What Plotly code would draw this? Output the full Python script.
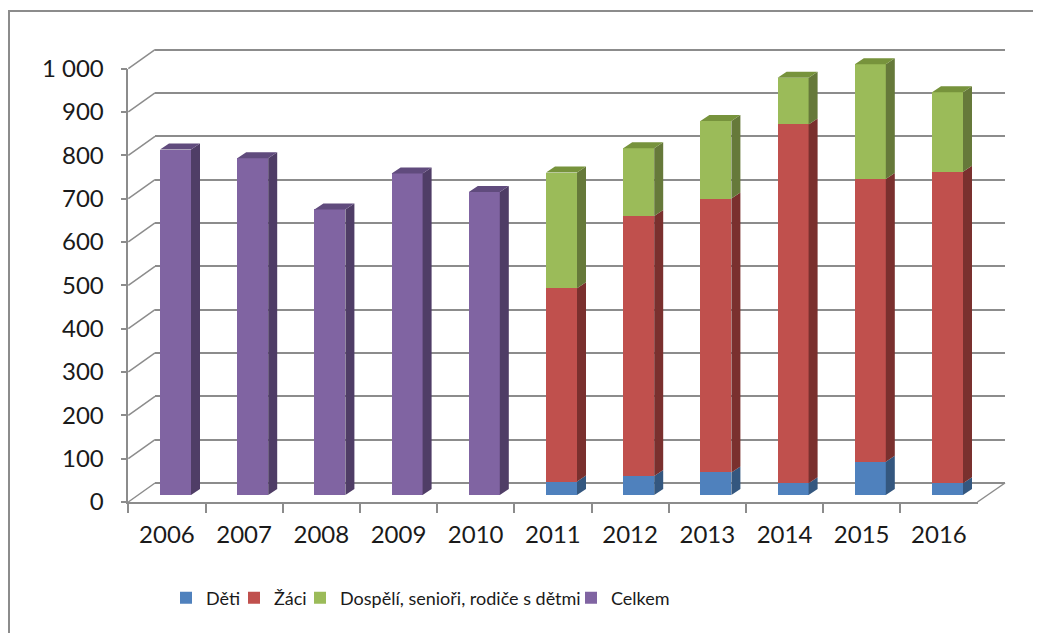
import plotly.graph_objects as go

# Daten
years = ["2006", "2007", "2008", "2009", "2010", "2011", "2012", "2013", "2014", "2015", "2016"]
deti = [None, None, None, None, None, 31, 44, 52, 27, 77, 27]
zaci = [None, None, None, None, None, 446, 600, 632, 828, 652, 719]
dospeli = [None, None, None, None, None, 267, 156, 179, 108, 265, 183]
celkem = [797, 777, 659, 742, 699, None, None, None, None, None, None]

y_ticks = [0, 100, 200, 300, 400, 500, 600, 700, 800, 900, 1000]
y_ticktext = ["0", "100", "200", "300", "400", "500", "600", "700", "800", "900", "1 000"]

series = [
    ("Děti", deti, "#4F81BD", "#34577F", "#3F6797"),
    ("Žáci", zaci, "#C0504D", "#7A302E", "#9A403D"),
    ("Dospělí, senioři, rodiče s dětmi", dospeli, "#9BBB59", "#66793A", "#77933C"),
    ("Celkem", celkem, "#8064A2", "#4F3D66", "#604B7D"),
]

# Geometrie in Pixeln (Excel-3D-Look nachgebaut)
W, H = 1041, 633
OFF = 8               # Body-Rand der HTML-Seite
K = 0.4334            # Pixel pro Einheit auf der y-Achse
STEP = 77.2           # Pixel pro Kategorie
BAR_W = 31 / STEP     # Balkenbreite in Kategorie-Einheiten
DX = 9 / STEP         # Tiefe nach rechts
DY = 6 / K            # Tiefe nach oben

FRONT_P0, FRONT_L, FRONT_R = 502, 128.3, 977.5
BAR_P0, BAR_C0 = 495, 175.5
BACK_P0, BACK_L, BACK_R = 483, 155, 1005

LEGEND_X = [166, 234, 300, 571]   # linke Kante je Legendeneintrag
LEGEND_Y = 598

GRID = "#8C8C8C"
FONT = "Lato"
TXT = "#1A1A1A"


def fx(px):
    return (px - OFF) / W


def fy(py):
    return 1 - (py - OFF) / H


def ydomain(p0, lo, hi):
    return [fy(p0 - lo * K), fy(p0 - hi * K)]


fig = go.Figure()

# Rückwand: nur Gitternetzlinien (erste Subplot-Ebene, liegt unter den Balken)
fig.add_trace(go.Scatter(x=[0.5], y=[500], mode="markers", marker=dict(opacity=0),
                         showlegend=False, hoverinfo="skip", xaxis="x", yaxis="y"))

# Balken (Vorderseiten), jede Reihe mit eigener Legende
legend_ids = ["legend", "legend2", "legend3", "legend4"]
for (name, vals, col, side, top), lid in zip(series, legend_ids):
    fig.add_trace(go.Bar(x=list(range(len(years))), y=vals, name=name, width=BAR_W,
                         marker=dict(color=col, line=dict(width=0)),
                         xaxis="x2", yaxis="y2", legend=lid))

# Seiten- und Deckflächen
bases = [0] * len(years)
top_info = [None] * len(years)
for name, vals, col, side, top in series:
    xs, ys = [], []
    for i, v in enumerate(vals):
        if v is None:
            continue
        b = bases[i]
        t = b + v
        xr = i + BAR_W / 2
        xs += [xr, xr + DX, xr + DX, xr, xr, None]
        ys += [b, b + DY, t + DY, t, b, None]
        bases[i] = t
        top_info[i] = (t, top)
    fig.add_trace(go.Scatter(x=xs, y=ys, fill="toself", fillcolor=side, mode="lines",
                             line=dict(width=0, color=side), showlegend=False,
                             hoverinfo="skip", xaxis="x2", yaxis="y2"))

for name, vals, col, side, top in series:
    xs, ys = [], []
    for i, info in enumerate(top_info):
        if info is None or info[1] != top:
            continue
        t = info[0]
        xl, xr = i - BAR_W / 2, i + BAR_W / 2
        xs += [xl, xl + DX, xr + DX, xr, xl, None]
        ys += [t, t + DY, t + DY, t, t, None]
    if xs:
        fig.add_trace(go.Scatter(x=xs, y=ys, fill="toself", fillcolor=top, mode="lines",
                                 line=dict(width=0, color=top), showlegend=False,
                                 hoverinfo="skip", xaxis="x2", yaxis="y2"))

# Vordere Achsen (Beschriftung)
fig.add_trace(go.Scatter(x=years, y=[0] * len(years), mode="markers", marker=dict(opacity=0),
                         showlegend=False, hoverinfo="skip", xaxis="x3", yaxis="y3"))

# schräge Linien der linken Wand und rechte Bodenkante
shapes = []
for v in y_ticks:
    shapes.append(dict(type="line", xref="paper", yref="paper", layer="below",
                       x0=fx(FRONT_L), y0=fy(FRONT_P0 - v * K),
                       x1=fx(BACK_L), y1=fy(BACK_P0 - v * K),
                       line=dict(color=GRID, width=1.5)))
shapes.append(dict(type="line", xref="paper", yref="paper", layer="below",
                   x0=fx(FRONT_R), y0=fy(FRONT_P0), x1=fx(BACK_R), y1=fy(BACK_P0),
                   line=dict(color=GRID, width=1.5)))
# Rahmen
shapes.append(dict(type="rect", xref="paper", yref="paper",
                   x0=fx(9), y0=fy(11), x1=1.02, y1=-0.02,
                   line=dict(color=GRID, width=2)))

hidden = dict(showgrid=False, zeroline=False, showline=False, showticklabels=False,
              ticks="", automargin=False)

fig.update_layout(
    template="none",
    width=W, height=H, autosize=False,
    margin=dict(l=0, r=0, t=0, b=0, pad=0),
    paper_bgcolor="white", plot_bgcolor="rgba(0,0,0,0)",
    barmode="stack",
    font=dict(family=FONT, color=TXT),
    shapes=shapes,
    # Rückwand
    xaxis=dict(domain=[fx(BACK_L), fx(BACK_R)], range=[0, 1], anchor="y", **hidden),
    yaxis=dict(domain=ydomain(BACK_P0, -20, 1020), range=[-20, 1020], anchor="x",
               tickvals=y_ticks, showgrid=True, gridcolor=GRID, gridwidth=1.5,
               zeroline=False, showline=False, showticklabels=False, ticks="",
               automargin=False),
    # Balken
    xaxis2=dict(domain=[fx(BAR_C0 - STEP / 2), fx(BAR_C0 + STEP * 10.5)],
                range=[-0.5, 10.5], anchor="y2", **hidden),
    yaxis2=dict(domain=ydomain(BAR_P0, 0, 1080), range=[0, 1080], anchor="x2", **hidden),
    # Vorderachsen
    xaxis3=dict(domain=[fx(FRONT_L), fx(FRONT_R)], type="category", range=[-0.5, 10.5],
                anchor="y3", tickson="boundaries", ticks="outside", ticklen=9,
                tickcolor=GRID, tickwidth=1.5, showline=True, linecolor=GRID, linewidth=1.5,
                showgrid=False, zeroline=False, ticklabelstandoff=10, automargin=False,
                tickfont=dict(size=24, family=FONT, color=TXT)),
    yaxis3=dict(domain=ydomain(FRONT_P0, 0, 1000), range=[0, 1000], anchor="x3",
                tickvals=y_ticks, ticktext=y_ticktext, ticks="outside", ticklen=6,
                tickcolor=GRID, tickwidth=1.5, showline=True, linecolor=GRID, linewidth=1.5,
                showgrid=False, zeroline=False, ticklabelstandoff=12, automargin=False,
                tickfont=dict(size=24, family=FONT, color=TXT)),
)

for lid, lx in zip(legend_ids, LEGEND_X):
    fig.update_layout({lid: dict(orientation="h", x=fx(lx), xanchor="left",
                                 y=fy(LEGEND_Y), yanchor="middle",
                                 font=dict(size=18, family=FONT, color=TXT),
                                 bgcolor="rgba(0,0,0,0)", borderwidth=0)})

fig.write_html("out.html")
